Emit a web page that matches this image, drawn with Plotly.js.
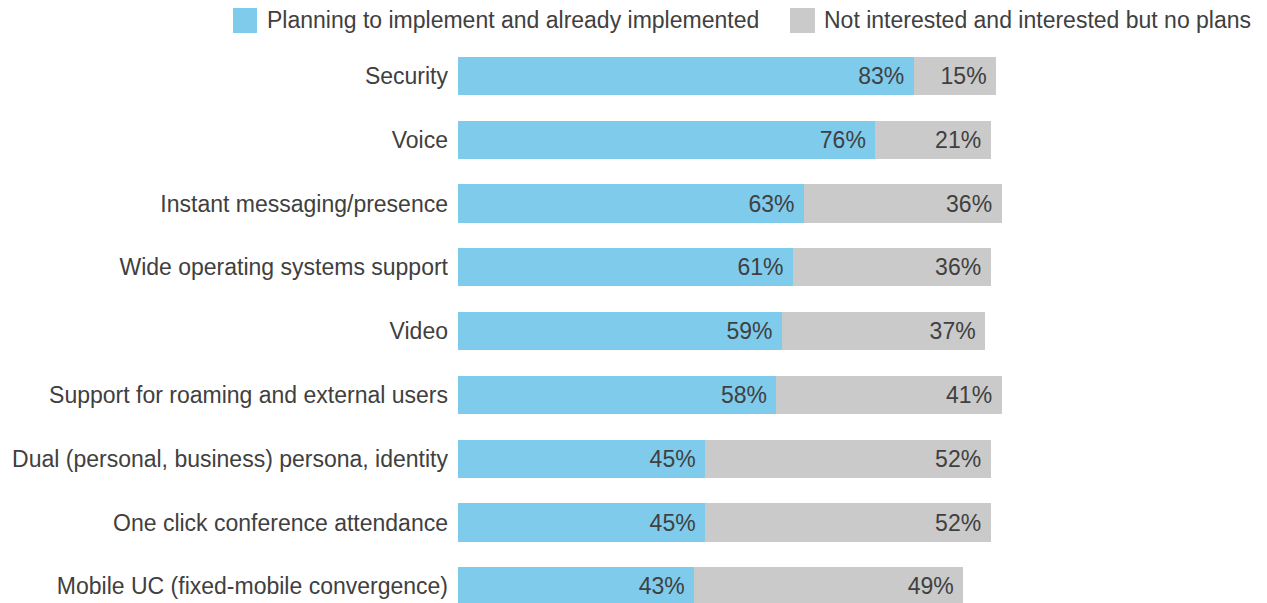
<!DOCTYPE html>
<html>
<head>
<meta charset="utf-8">
<script src="https://cdn.plot.ly/plotly-3.0.1.min.js"></script>
<style>html,body{margin:0;padding:0;background:#fff;}#chart{width:1267px;height:603px;}</style>
</head>
<body>
<div id="chart"></div>
<script>
const categories = [
  "Security",
  "Voice",
  "Instant messaging/presence",
  "Wide operating systems support",
  "Video",
  "Support for roaming and external users",
  "Dual (personal, business) persona, identity",
  "One click conference attendance",
  "Mobile UC (fixed-mobile convergence)"
];
const planningValues = [83, 76, 63, 61, 59, 58, 45, 45, 43];
const notInterestedValues = [15, 21, 36, 36, 37, 41, 52, 52, 49];
const seriesNames = ["Planning to implement and already implemented", "Not interested and interested but no plans"];
const seriesColors = ["#7fcbec", "#cacaca"];

const W = 1267, H = 603;
const M = {l: 458, r: 260, t: 44, b: 0};
const pw = W - M.l - M.r, ph = H - M.t - M.b;
const px = v => (v - M.l) / pw;
const py = v => (H - M.b - v) / ph;

const font = {family: "Liberation Sans, Arial, sans-serif", size: 23, color: "#404040"};
const pad = "\u00a0";

function barTrace(vals, i) {
  return {
    type: "bar", orientation: "h",
    y: categories, x: vals, name: seriesNames[i],
    marker: {color: seriesColors[i], line: {width: 0}},
    text: vals.map(v => v + "%" + pad),
    textposition: "inside", insidetextanchor: "end",
    insidetextfont: font, textangle: 0,
    hoverinfo: "x+y", cliponaxis: false
  };
}

const legendBoxes = [[233, 257], [790, 815]];
const legendTextX = [265, 822];
const shapes = legendBoxes.map((b, i) => ({
  type: "rect", xref: "paper", yref: "paper",
  x0: px(b[0]), x1: px(b[1]), y0: py(33), y1: py(8),
  fillcolor: seriesColors[i], line: {width: 0}
}));
const annotations = seriesNames.map((n, i) => ({
  xref: "paper", yref: "paper", x: px(legendTextX[i]), y: py(20),
  xanchor: "left", yanchor: "middle", text: n, showarrow: false, font: font
}));

const layout = {
  width: W, height: H,
  margin: M,
  barmode: "stack", bargap: 0.4,
  showlegend: false,
  paper_bgcolor: "#fff", plot_bgcolor: "#fff",
  font: font,
  xaxis: {range: [0, 100], visible: false, showgrid: false, zeroline: false, fixedrange: true},
  yaxis: {
    type: "category", categoryorder: "array", categoryarray: categories,
    range: [8.26, -0.5], showgrid: false, zeroline: false, showline: false,
    ticks: "", ticklabelstandoff: 9, tickfont: font, fixedrange: true
  },
  shapes: shapes, annotations: annotations
};

Plotly.newPlot("chart", [barTrace(planningValues, 0), barTrace(notInterestedValues, 1)], layout, {displayModeBar: false, staticPlot: true});
</script>
</body>
</html>
